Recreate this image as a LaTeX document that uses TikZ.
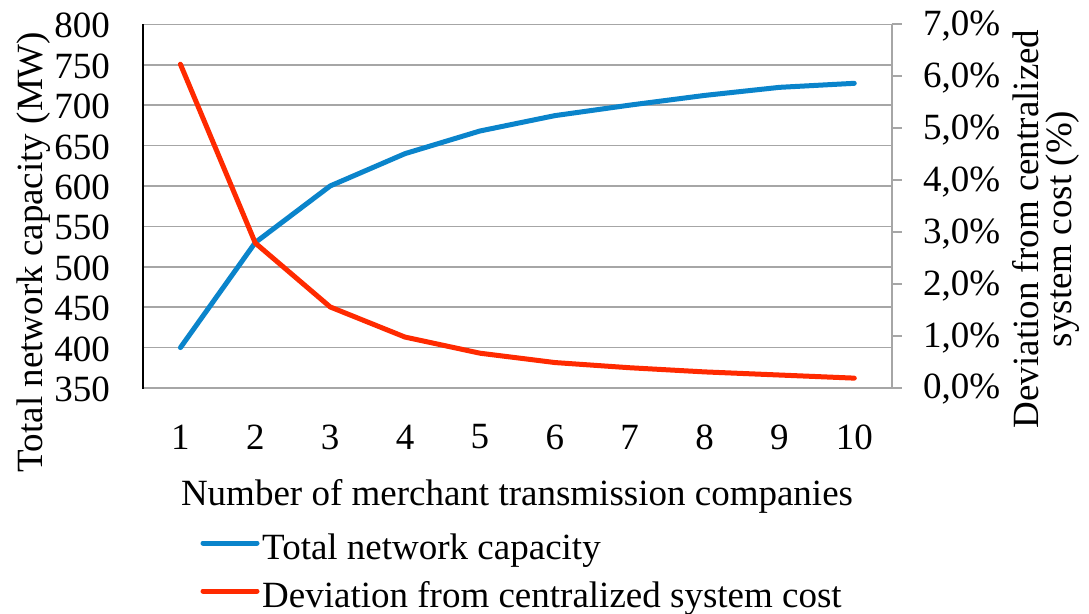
\documentclass[tikz,border=0pt]{standalone}
\usepackage{fontspec}
\setmainfont{Liberation Serif}
\definecolor{blueS}{HTML}{0A84CB}
\definecolor{redS}{HTML}{FF2A00}
\definecolor{gridG}{HTML}{A6A6A6}
\newcommand\cxx[1]{143+74.87*(#1-0.5)}
\newcommand\ylv[1]{388-(#1-350)*0.8082}
\newcommand\yrv[1]{388-(#1)*51.96}
\begin{document}
\begin{tikzpicture}[x=1pt,y=-1pt,
  font=\fontsize{37}{40}\selectfont,
  every node/.style={inner sep=0pt},
  gridln/.style={draw=gridG,line width=1.6pt},
  series/.style={line width=5pt,line join=round,line cap=round},
  lbl/.style={text=black}]
\useasboundingbox[fill=white] (0,0) rectangle (1089,613);
% gridlines
\foreach \v in {400,450,...,800}
  \draw[gridln] (143,{\ylv{\v}}) -- (891.7,{\ylv{\v}});
% axes
\draw[gridln] (143,388) -- (891.7,388);
\draw[gridln] (891.7,{\yrv{7}}) -- (891.7,388);
\foreach \p in {0,...,7}
  \draw[gridln] (891.7,{\yrv{\p}}) -- (902,{\yrv{\p}});
\draw[black,line width=2pt] (143,{\ylv{800}}) -- (143,389);
% left tick labels
\foreach \v in {350,400,...,800}
  \node[lbl,anchor=east] (l\v) at (110,{\ylv{\v}+1.5}) {\v};
% right tick labels
\foreach \p in {0,...,7}
  \node[lbl,anchor=west] (r\p) at (923,{\yrv{\p}+1.5}) {\p,0\%};
% x tick labels
\foreach \i in {1,...,10}
  \node[lbl] (x\i) at ({\cxx{\i}},437) {\i};
% axis titles
\node[lbl,anchor=base] (xt) at (517,505) {Number of merchant transmission companies};
\node[lbl,anchor=base,rotate=90] (yt) at (42,252) {Total network capacity (MW)};
\node[lbl,anchor=base,rotate=90] (rt1) at (1038,229) {Deviation from centralized};
\node[lbl,anchor=base,rotate=90] (rt2) at (1071,229) {system cost (\%)};
% series
\draw[series,blueS] ({\cxx{1}},{\ylv{400}}) -- ({\cxx{2}},{\ylv{530}}) -- ({\cxx{3}},{\ylv{600}})
  -- ({\cxx{4}},{\ylv{640}}) -- ({\cxx{5}},{\ylv{668}}) -- ({\cxx{6}},{\ylv{687}})
  -- ({\cxx{7}},{\ylv{700}}) -- ({\cxx{8}},{\ylv{712}}) -- ({\cxx{9}},{\ylv{722}})
  -- ({\cxx{10}},{\ylv{727}});
\draw[series,redS] ({\cxx{1}},{\yrv{6.23}}) -- ({\cxx{2}},{\yrv{2.79}}) -- ({\cxx{3}},{\yrv{1.56}})
  -- ({\cxx{4}},{\yrv{0.98}}) -- ({\cxx{5}},{\yrv{0.67}}) -- ({\cxx{6}},{\yrv{0.49}})
  -- ({\cxx{7}},{\yrv{0.39}}) -- ({\cxx{8}},{\yrv{0.31}}) -- ({\cxx{9}},{\yrv{0.25}})
  -- ({\cxx{10}},{\yrv{0.19}});
% legend
\coordinate (lb1) at (203,543);
\coordinate (lb2) at (257,543);
\coordinate (lr1) at (203,591);
\coordinate (lr2) at (257,591);
\draw[series,blueS] (lb1) -- (lb2);
\draw[series,redS] (lr1) -- (lr2);
\node[lbl,anchor=base west] (leg1) at (262,559) {Total network capacity};
\node[lbl,anchor=base west] (leg2) at (262,607) {Deviation from centralized system cost};
\end{tikzpicture}
\end{document}
